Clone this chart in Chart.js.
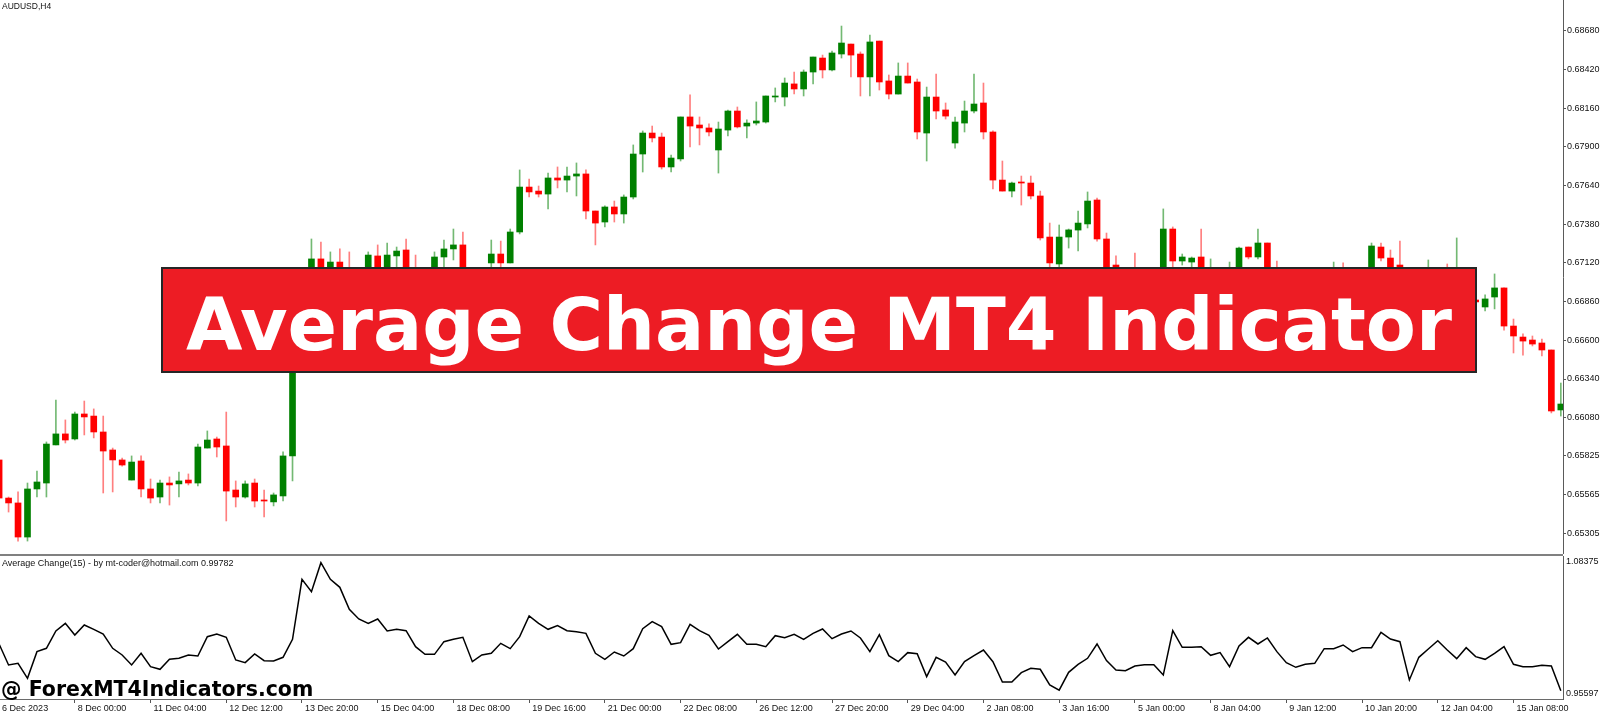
<!DOCTYPE html>
<html>
<head>
<meta charset="utf-8">
<script src="https://cdn.jsdelivr.net/npm/chart.js@4.4.1/dist/chart.umd.min.js"></script>
<style>
html,body{margin:0;padding:0;background:#fff;}
#wrap{position:relative;width:1600px;height:712px;overflow:hidden;background:#fff;}
canvas{position:absolute;left:0;}
#main{top:0;}
#ind{top:556px;}
#sep{position:absolute;left:0;top:554px;width:1563px;height:2px;background:#808080;}
.lbl{position:absolute;font-family:'Liberation Sans',Arial,sans-serif;font-size:9px;line-height:10px;color:#111;white-space:nowrap;}
#title{left:2px;top:1px;font-size:8.5px;}
#indlbl{left:2px;top:558px;}
#banner{position:absolute;left:161px;top:267px;width:1316px;height:106px;box-sizing:border-box;background:#ED1C24;border:2px solid #262626;}
#btext{position:absolute;left:0;right:0;top:19px;text-align:center;font-family:'DejaVu Sans',sans-serif;font-weight:bold;font-size:73px;line-height:73px;color:#fff;white-space:nowrap;}
#wm{position:absolute;left:1px;top:679px;font-family:'DejaVu Sans',sans-serif;font-weight:bold;font-size:20.5px;line-height:21px;color:#000;white-space:nowrap;}
</style>
</head>
<body>
<div id="wrap">
  <canvas id="main" width="1600" height="554"></canvas>
  <div id="sep"></div>
  <canvas id="ind" width="1600" height="156"></canvas>
  <div id="title" class="lbl">AUDUSD,H4</div>
  <div id="indlbl" class="lbl">Average Change(15) - by mt-coder@hotmail.com 0.99782</div>
  <div id="banner"><div id="btext">Average Change MT4 Indicator</div></div>
  <div id="wm">@ ForexMT4Indicators.com</div>
</div>
<script>
// ---- data (H4 bars, index 0 = first visible bar) ----
const barOpen = [
0.65796,0.65540,0.65507,0.65278,0.65601,0.65641,0.65897,0.65971,0.65937,0.66105,
0.66091,0.65984,0.65863,0.65796,0.65661,0.65789,0.65601,0.65547,0.65641,0.65635,
0.65661,0.65641,0.65876,0.65937,0.65890,0.65594,0.65547,0.65641,0.65527,0.65514,
0.65554,0.65823,0.66871,0.66972,0.67147,0.66972,0.67126,0.67039,0.66938,0.67019,
0.67167,0.67019,0.67167,0.67207,0.67005,0.66925,0.66992,0.67160,0.67214,0.67241,
0.67005,0.66938,0.67120,0.67180,0.67120,0.67328,0.67630,0.67603,0.67583,0.67691,
0.67677,0.67704,0.67718,0.67469,0.67395,0.67496,0.67449,0.67563,0.67852,0.67993,
0.67966,0.67765,0.67819,0.68101,0.68047,0.68027,0.67879,0.68013,0.68141,0.68040,
0.68060,0.68067,0.68235,0.68235,0.68323,0.68289,0.68403,0.68497,0.68417,0.68524,
0.68591,0.68524,0.68370,0.68611,0.68343,0.68255,0.68376,0.68336,0.67993,0.68235,
0.68148,0.67926,0.68060,0.68141,0.68195,0.68000,0.67677,0.67603,0.67664,0.67657,
0.67570,0.67294,0.67113,0.67294,0.67341,0.67382,0.67543,0.67281,0.67106,0.66972,
0.67039,0.66972,0.66925,0.67005,0.67348,0.67133,0.67126,0.67160,0.66972,0.67059,
0.66992,0.67059,0.67227,0.67160,0.67254,0.67039,0.66985,0.67032,0.66972,0.66925,
0.66992,0.67005,0.67059,0.67019,0.66972,0.67059,0.67227,0.67153,0.67106,0.66992,
0.67059,0.66972,0.67039,0.67005,0.66871,0.66925,0.66871,0.66824,0.66891,0.66952,
0.66696,0.66622,0.66602,0.66582,0.66535,0.66132];
const barHigh = [
0.65823,0.65547,0.65581,0.65641,0.65722,0.65917,0.66199,0.66065,0.66118,0.66192,
0.66139,0.66091,0.65876,0.65809,0.65823,0.65823,0.65668,0.65661,0.65682,0.65715,
0.65702,0.65903,0.65991,0.65950,0.66118,0.65655,0.65655,0.65668,0.65594,0.65574,
0.65850,0.66925,0.67039,0.67281,0.67261,0.67194,0.67214,0.67194,0.67073,0.67194,
0.67241,0.67254,0.67227,0.67281,0.67173,0.67059,0.67194,0.67274,0.67348,0.67328,
0.67059,0.67073,0.67274,0.67267,0.67348,0.67745,0.67684,0.67637,0.67724,0.67765,
0.67765,0.67792,0.67745,0.67469,0.67503,0.67536,0.67577,0.67913,0.68007,0.68040,
0.67993,0.67845,0.68101,0.68249,0.68101,0.68054,0.68067,0.68148,0.68168,0.68081,
0.68202,0.68242,0.68296,0.68363,0.68403,0.68417,0.68504,0.68517,0.68544,0.68712,
0.68591,0.68538,0.68652,0.68611,0.68383,0.68464,0.68464,0.68356,0.68302,0.68390,
0.68195,0.68101,0.68208,0.68390,0.68329,0.68007,0.67805,0.67664,0.67704,0.67704,
0.67603,0.67388,0.67375,0.67348,0.67469,0.67597,0.67556,0.67321,0.67167,0.67073,
0.67187,0.67039,0.67059,0.67483,0.67362,0.67180,0.67160,0.67348,0.67147,0.67086,
0.67126,0.67227,0.67227,0.67348,0.67254,0.67133,0.67073,0.67066,0.67019,0.67039,
0.67073,0.67126,0.67120,0.67059,0.67086,0.67254,0.67254,0.67207,0.67267,0.67086,
0.67079,0.67140,0.67073,0.67113,0.67288,0.66972,0.66884,0.66905,0.67046,0.66952,
0.66743,0.66643,0.66629,0.66609,0.66535,0.66313];
const barLow = [
0.65527,0.65446,0.65251,0.65251,0.65547,0.65547,0.65897,0.65910,0.65930,0.65964,
0.65944,0.65574,0.65581,0.65755,0.65661,0.65547,0.65507,0.65507,0.65493,0.65547,
0.65628,0.65621,0.65876,0.65816,0.65386,0.65480,0.65540,0.65480,0.65413,0.65487,
0.65520,0.65655,0.66804,0.66938,0.66938,0.66925,0.66972,0.66938,0.66898,0.66992,
0.66992,0.66992,0.67073,0.66938,0.66884,0.66891,0.66972,0.67093,0.67140,0.66972,
0.66905,0.66905,0.67059,0.67073,0.67120,0.67315,0.67563,0.67563,0.67483,0.67624,
0.67597,0.67570,0.67415,0.67241,0.67362,0.67395,0.67388,0.67550,0.67731,0.67933,
0.67751,0.67731,0.67805,0.67899,0.67913,0.67973,0.67724,0.67973,0.68027,0.67960,
0.68047,0.68060,0.68202,0.68175,0.68255,0.68242,0.68323,0.68363,0.68410,0.68497,
0.68370,0.68242,0.68242,0.68282,0.68222,0.68255,0.68329,0.67953,0.67805,0.68087,
0.68087,0.67892,0.68000,0.68128,0.67953,0.67617,0.67603,0.67563,0.67509,0.67550,
0.67274,0.67073,0.67059,0.67220,0.67200,0.67355,0.67267,0.67019,0.67005,0.66938,
0.66925,0.66884,0.66898,0.66985,0.67059,0.67106,0.67073,0.66972,0.66938,0.66952,
0.66965,0.67032,0.67147,0.67147,0.67005,0.66952,0.66952,0.66938,0.66884,0.66898,
0.66965,0.66979,0.66979,0.66938,0.66952,0.67039,0.67133,0.67032,0.67032,0.66965,
0.66972,0.66938,0.66952,0.66911,0.66837,0.66837,0.66844,0.66797,0.66811,0.66669,
0.66515,0.66501,0.66562,0.66495,0.66112,0.66091];
const barClose = [
0.65540,0.65507,0.65278,0.65601,0.65648,0.65903,0.65971,0.65930,0.66105,0.66085,
0.65984,0.65856,0.65796,0.65762,0.65782,0.65601,0.65540,0.65641,0.65628,0.65655,
0.65641,0.65883,0.65930,0.65883,0.65587,0.65547,0.65635,0.65520,0.65520,0.65561,
0.65823,0.66871,0.66972,0.67147,0.67005,0.67126,0.67019,0.66992,0.67019,0.67173,
0.67019,0.67173,0.67200,0.66972,0.66925,0.67005,0.67160,0.67214,0.67241,0.67005,
0.66938,0.67039,0.67180,0.67120,0.67328,0.67630,0.67597,0.67583,0.67691,0.67677,
0.67704,0.67718,0.67469,0.67388,0.67496,0.67449,0.67563,0.67852,0.67993,0.67960,
0.67765,0.67825,0.68101,0.68040,0.68027,0.68000,0.68020,0.68141,0.68034,0.68060,
0.68074,0.68242,0.68242,0.68329,0.68289,0.68403,0.68504,0.68417,0.68531,0.68598,
0.68517,0.68370,0.68605,0.68336,0.68255,0.68376,0.68329,0.68000,0.68235,0.68141,
0.68107,0.68067,0.68141,0.68188,0.68000,0.67677,0.67603,0.67657,0.67657,0.67570,
0.67288,0.67120,0.67294,0.67342,0.67388,0.67536,0.67281,0.67073,0.67059,0.67039,
0.66972,0.66938,0.67005,0.67348,0.67133,0.67160,0.67153,0.67005,0.67059,0.66992,
0.67073,0.67220,0.67160,0.67254,0.67039,0.66985,0.67032,0.66972,0.66925,0.66992,
0.67039,0.67059,0.67019,0.66972,0.67059,0.67234,0.67153,0.67059,0.67073,0.67059,
0.67005,0.67039,0.66985,0.66952,0.66938,0.66871,0.66858,0.66878,0.66952,0.66696,
0.66629,0.66595,0.66575,0.66535,0.66125,0.66172];
const avgChange = [
1.00260,0.98164,0.98330,0.96833,0.99495,0.99827,1.01557,1.02323,1.01158,1.02156,
1.01724,1.01258,0.99827,0.99162,0.98164,0.99328,0.97997,0.97731,0.98729,0.98829,
0.99162,0.99062,1.00992,1.01258,1.00925,0.98663,0.98397,0.99262,0.98596,0.98563,
0.98929,1.00726,1.06714,1.05483,1.08375,1.06714,1.05916,1.03720,1.02755,1.02323,
1.02755,1.01557,1.01724,1.01591,0.99994,0.99228,0.99228,1.00493,1.00726,1.00925,
0.98496,0.99162,0.99328,1.00326,0.99794,1.00992,1.03054,1.02323,1.01724,1.02090,
1.01591,1.01491,1.01324,0.99328,0.98729,0.99461,0.99062,0.99794,1.01790,1.02489,
1.01990,1.00227,1.00393,1.02223,1.01591,1.01125,0.99761,1.00493,1.01225,1.00227,
1.00227,0.99994,1.01092,1.00892,1.01225,1.00726,1.01324,1.01757,1.00792,1.01258,
1.01557,1.00859,0.99495,1.01191,0.99095,0.98496,0.99395,0.99295,0.96999,0.98929,
0.98463,0.97166,0.98496,0.99095,0.99661,0.98496,0.96467,0.96467,0.97399,0.97831,
0.97731,0.96168,0.95650,0.97432,0.98230,0.98829,1.00260,0.98596,0.97665,0.97598,
0.98064,0.98197,0.98197,0.97166,1.01591,0.99927,0.99927,0.99994,0.99129,0.99395,
0.97997,1.00060,1.00925,1.00260,1.00859,0.99495,0.98397,0.97931,0.98230,0.98330,
0.99794,0.99794,1.00160,0.99495,0.99894,0.99894,1.01424,1.00759,1.00493,0.96667,
0.98929,0.99761,1.00593,0.99661,0.98796,0.99894,0.98996,0.98729,0.99328,0.99994,
0.98230,0.97997,0.97997,0.98131,0.98064,0.95597];
const priceTicks = [0.68680,0.68420,0.68160,0.67900,0.67640,0.67380,0.67120,0.66860,0.66600,0.66340,0.66080,0.65825,0.65565,0.65305];
const indTicks = [1.08375,0.95597];   // sub-window max and min
const timeTickBars = [0,8,16,24,32,40,48,56,64,72,80,88,96,104,112,120,128,136,144,152,160];
const timeTickLabels = ['6 Dec 2023','8 Dec 00:00','11 Dec 04:00','12 Dec 12:00','13 Dec 20:00','15 Dec 04:00','18 Dec 08:00','19 Dec 16:00','21 Dec 00:00','22 Dec 08:00','26 Dec 12:00','27 Dec 20:00','29 Dec 04:00','2 Jan 08:00','3 Jan 16:00','5 Jan 00:00','8 Jan 04:00','9 Jan 12:00','10 Jan 20:00','12 Jan 04:00','15 Jan 08:00'];

// ---- view settings ----
const X_MIN = 0.095, X_MAX = 165.23;
const FONT_FAMILY = "'Liberation Sans', Arial, sans-serif";
const AXIS_FONT = {family:FONT_FAMILY, size:9};
const TEXT_COLOR = '#111';
const UP = '#008000', DOWN = '#ff0000';
const UP_WICK = 'rgba(0,128,0,0.55)', DOWN_WICK = 'rgba(255,0,0,0.5)';

const isUp = barClose.map((c,i)=> c >= barOpen[i]);
const bodies = barOpen.map((o,i)=>({x:i, y:[o, barClose[i]]}));
const wicks = barLow.map((l,i)=>({x:i, y:[l, barHigh[i]]}));

function fixY(scale){ scale.width = 37; scale.paddingTop = 0; scale.paddingBottom = 0; }

new Chart(document.getElementById('main'), {
  type:'bar',
  data:{datasets:[
    {data:bodies, backgroundColor:isUp.map(u=>u?UP:DOWN), barThickness:6, grouped:false, minBarLength:1, borderWidth:0},
    {data:wicks, backgroundColor:isUp.map(u=>u?UP_WICK:DOWN_WICK), barThickness:1, grouped:false, borderWidth:0}
  ]},
  options:{
    responsive:false, animation:false, devicePixelRatio:1, events:[],
    layout:{padding:0},
    plugins:{legend:{display:false}, tooltip:{enabled:false}},
    scales:{
      x:{type:'linear', min:X_MIN, max:X_MAX, offset:false, display:false, grid:{display:false}},
      y:{type:'linear', position:'right', min:0.65164, max:0.68887,
         afterBuildTicks:(s)=>{ s.ticks = priceTicks.map(v=>({value:v})); },
         afterFit:fixY,
         ticks:{font:AXIS_FONT, color:TEXT_COLOR, padding:1, callback:(v)=>Number(v).toFixed(5)},
         grid:{display:true, drawOnChartArea:false, drawTicks:true, tickLength:3, color:'#555'},
         border:{display:true, color:'#5a5a5a', width:1}}
    }
  }
});

// MT4 writes the max / min of a sub-window at its top and bottom edges.
const edgeLabels = {
  id:'edgeLabels',
  afterDraw(chart){
    const s = chart.scales.y, ctx = chart.ctx;
    ctx.save();
    ctx.font = AXIS_FONT.size + 'px ' + FONT_FAMILY;
    ctx.fillStyle = TEXT_COLOR;
    ctx.textAlign = 'left';
    ctx.textBaseline = 'middle';
    const hi = Math.max(...indTicks), lo = Math.min(...indTicks);
    ctx.fillText(hi.toFixed(5), s.left + 3, s.top + 6);
    ctx.fillText(lo.toFixed(5), s.left + 3, s.bottom - 5);
    ctx.restore();
  }
};

new Chart(document.getElementById('ind'), {
  type:'line',
  data:{datasets:[{data:avgChange.map((v,i)=>({x:i,y:v})), borderColor:'#000', borderWidth:1.5, pointRadius:0, tension:0, fill:false}]},
  options:{
    responsive:false, animation:false, devicePixelRatio:1, events:[],
    layout:{padding:0},
    plugins:{legend:{display:false}, tooltip:{enabled:false}},
    scales:{
      x:{type:'linear', min:X_MIN, max:X_MAX, offset:false, position:'bottom',
         afterBuildTicks:(s)=>{ s.ticks = timeTickBars.map(v=>({value:v})); },
         afterFit:(s)=>{ s.height = 13; s.paddingLeft = 0; s.paddingRight = 0; },
         ticks:{font:AXIS_FONT, color:TEXT_COLOR, align:'start', labelOffset:3, padding:0, autoSkip:false, maxRotation:0, minRotation:0,
                callback:(v,idx)=>timeTickLabels[idx]},
         grid:{display:true, drawOnChartArea:false, drawTicks:true, tickLength:4, color:'#555'},
         border:{display:true, color:'#6a6a6a', width:1}},
      y:{type:'linear', position:'right', min:0.94768, max:1.09044,
         afterBuildTicks:(s)=>{ s.ticks = indTicks.map(v=>({value:v})); },
         afterFit:fixY,
         ticks:{display:false},
         grid:{display:false},
         border:{display:true, color:'#5a5a5a', width:1}}
    }
  },
  plugins:[edgeLabels]
});
</script>
</body>
</html>
